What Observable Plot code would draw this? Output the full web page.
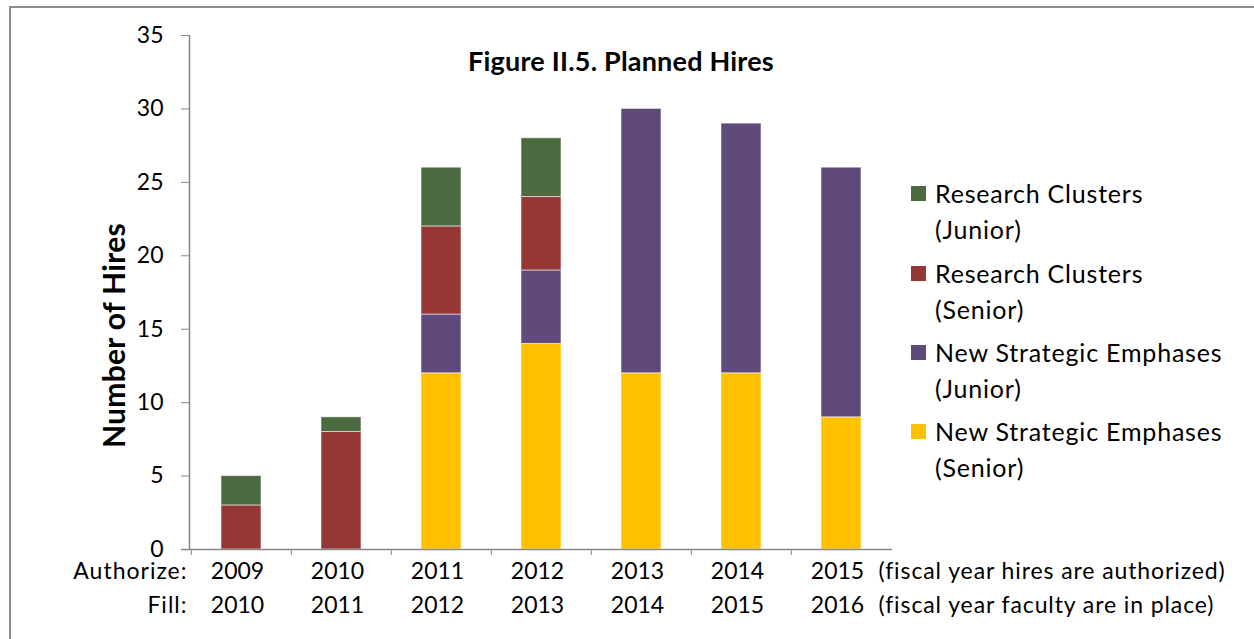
<!DOCTYPE html>
<html>
<head>
<meta charset="utf-8">
<script src="https://cdn.jsdelivr.net/npm/d3@7"></script>
<script src="https://cdn.jsdelivr.net/npm/@observablehq/plot@0.6"></script>
<style>
  html, body { margin: 0; padding: 0; background: #fff; }
  #wrap { position: relative; width: 1254px; height: 639px; overflow: hidden; font-family: Lato, "Open Sans", sans-serif; color: #000; font-variant-ligatures: none; }
  #border { position: absolute; left: 9px; top: 6px; width: 1300px; height: 700px; border-left: 2px solid #8c8c8c; border-top: 2px solid #8c8c8c; box-sizing: border-box; }
  #title { position: absolute; left: 371px; width: 500px; top: 43px; text-align: center; font-weight: bold; font-size: 27px; letter-spacing: 0.2px; line-height: 36px; }
  .lg { position: absolute; left: 911px; font-size: 25px; letter-spacing: 0.8px; line-height: 36px; }
  .lg .sw { position: absolute; left: 0; top: 11px; width: 15px; height: 15px; }
  .lg .tx { position: absolute; left: 24px; top: 0; white-space: nowrap; }
  svg { position: absolute; left: 0; top: 0; font-variant-ligatures: none; }
</style>
</head>
<body>
<div id="wrap">
  <div id="border"></div>
  <div id="chart"></div>
  <div id="title">Figure II.5. Planned Hires</div>
  <div id="legend"></div>
</div>
<script>
const years = ["2009", "2010", "2011", "2012", "2013", "2014", "2015"];
const fillYears = ["2010", "2011", "2012", "2013", "2014", "2015", "2016"];
const nseSenior = [0, 0, 12, 14, 12, 12, 9];
const nseJunior = [0, 0, 4, 5, 18, 17, 17];
const rcSenior = [3, 8, 6, 5, 0, 0, 0];
const rcJunior = [2, 1, 4, 4, 0, 0, 0];
const seriesNames = [
  "New Strategic Emphases (Senior)",
  "New Strategic Emphases (Junior)",
  "Research Clusters (Senior)",
  "Research Clusters (Junior)"
];
const seriesColors = ["#FFC000", "#604A7B", "#953735", "#4B6A40"];
const yTicks = [0, 5, 10, 15, 20, 25, 30, 35];

const seriesValues = [nseSenior, nseJunior, rcSenior, rcJunior];
const data = [];
seriesNames.forEach((s, k) => {
  years.forEach((y, i) => data.push({year: y, series: s, value: seriesValues[k][i]}));
});

const W = 1254, H = 639;
const mL = 189, mR = 362, mT = 35, mB = 90;
const step = (W - mL - mR) / years.length;
const axisGray = "#868686";

const chart = Plot.plot({
  width: W,
  height: H,
  marginLeft: mL,
  marginRight: mR,
  marginTop: mT,
  marginBottom: mB,
  style: {fontFamily: "Lato, 'Open Sans', sans-serif", fontSize: "23px", color: "#000", background: "transparent", overflow: "visible"},
  x: {domain: years, paddingInner: 0.6, paddingOuter: 0.3, axis: null},
  y: {domain: [0, 35], axis: null},
  color: {domain: seriesNames, range: seriesColors},
  marks: [
    Plot.barY(data, {
      x: "year", y: "value", fill: "series",
      order: seriesNames,
      stroke: "#ffffff", strokeOpacity: 0.55, strokeWidth: 1
    }),
    Plot.axisY({ticks: yTicks, tickSize: 8, tickPadding: 18, stroke: axisGray, fill: "#000", label: null, fontSize: 23}),
    Plot.frame({anchor: "left", stroke: axisGray, strokeWidth: 1.5}),
    Plot.ruleY([0], {stroke: axisGray, strokeWidth: 1.5, insetLeft: -8}),
    Plot.axisX({ticks: years, tickFormat: () => "", tickSize: 6, dx: -step / 2, stroke: axisGray, label: null}),
    Plot.text(years, {x: d => d, frameAnchor: "bottom", dy: 29, dx: -4, fill: "#000", fontSize: 23}),
    Plot.text(years, {x: d => d, text: (d, i) => fillYears[i], frameAnchor: "bottom", dy: 63, dx: -4, fill: "#000", fontSize: 23}),
    Plot.text(["Authorize:"], {frameAnchor: "bottom-left", textAnchor: "end", dx: -2, dy: 29, fill: "#000", fontSize: 23}),
    Plot.text(["Fill:"], {frameAnchor: "bottom-left", textAnchor: "end", dx: -2, dy: 63, fill: "#000", fontSize: 23}),
    Plot.text(["(fiscal year hires are authorized)"], {frameAnchor: "bottom-right", textAnchor: "start", dx: -14, dy: 29, fill: "#000", fontSize: 23}),
    Plot.text(["(fiscal year faculty are in place)"], {frameAnchor: "bottom-right", textAnchor: "start", dx: -14, dy: 63, fill: "#000", fontSize: 23}),
    Plot.text(["Number of Hires"], {frameAnchor: "left", textAnchor: "middle", rotate: -90, dx: -74, dy: 43, fontWeight: "bold", fontSize: 30, fill: "#000"})
  ]
});
document.getElementById("chart").appendChild(chart);

// widen the word labels slightly to match the reference's wider typeface
const spacing = {
  "Authorize:": "1px", "Fill:": "1px",
  "(fiscal year hires are authorized)": "0.9px",
  "(fiscal year faculty are in place)": "0.9px",
  "Number of Hires": "0.3px"
};
d3.select(chart).selectAll("text").each(function() {
  const s = spacing[this.textContent];
  if (s) this.style.letterSpacing = s;
});

// legend (top to bottom: reverse of stacking order)
const legendTops = [175, 255, 334, 413];
const legend = document.getElementById("legend");
[3, 2, 1, 0].forEach((k, j) => {
  const name = seriesNames[k];
  const m = name.match(/^(.*) (\(.*\))$/);
  const div = document.createElement("div");
  div.className = "lg";
  div.style.top = legendTops[j] + "px";
  div.innerHTML = `<div class="sw" style="background:${seriesColors[k]}"></div><div class="tx">${m[1]}<br>${m[2]}</div>`;
  legend.appendChild(div);
});
</script>
</body>
</html>
